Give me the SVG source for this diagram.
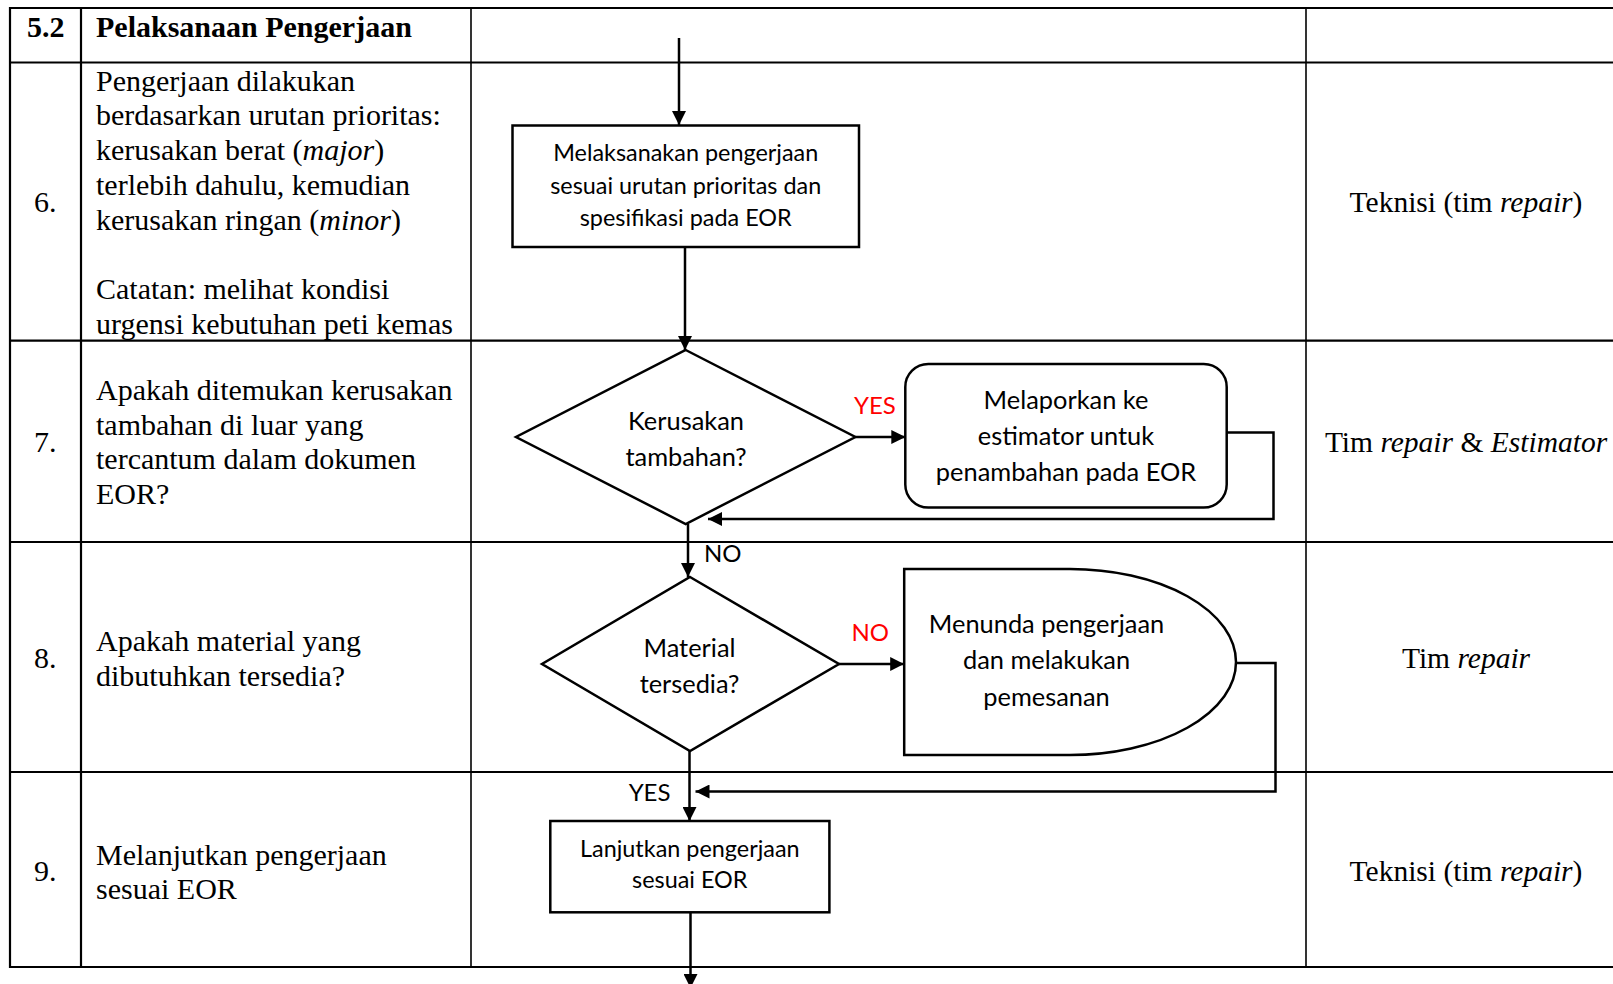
<svg xmlns="http://www.w3.org/2000/svg" width="1613" height="984" viewBox="0 0 1613 984">
<style>
.tb{stroke:#000;stroke-width:2.2;fill:none}
.tc{stroke:#000;stroke-width:1.6;fill:none}
.sr{font-family:"Liberation Serif","Times New Roman",serif;font-size:30px;fill:#000}
.srr{font-family:"Liberation Serif","Times New Roman",serif;font-size:29.5px;fill:#000;text-anchor:middle}
.b{font-weight:bold}
.i{font-style:italic}
.sh{stroke:#000;stroke-width:2.5;fill:#fff}
.fl{stroke:#000;stroke-width:2.5;fill:none}
.t1{font-family:Lato,"Liberation Sans",sans-serif;font-size:23.4px;fill:#000;text-anchor:middle}
.t2{font-family:Lato,"Liberation Sans",sans-serif;font-size:25.4px;fill:#000;text-anchor:middle}
.lb{font-family:Lato,"Liberation Sans",sans-serif;font-size:24px;fill:#000}
.red{fill:#FF0000}
</style>
<defs>
<marker id="ah" markerUnits="userSpaceOnUse" markerWidth="14" markerHeight="14" refX="14" refY="7" orient="auto">
<path d="M0,0 L14,7 L0,14 Z" fill="#000"/>
</marker>
</defs>
<rect width="1613" height="984" fill="#fff"/>
<g id="table">
<line class="tb" x1="9" y1="8" x2="1613" y2="8"/>
<line class="tb" x1="9" y1="62.5" x2="1613" y2="62.5"/>
<line class="tb" x1="9" y1="340.7" x2="1613" y2="340.7"/>
<line class="tb" x1="9" y1="542" x2="1613" y2="542"/>
<line class="tb" x1="9" y1="772" x2="1613" y2="772"/>
<line class="tb" x1="9" y1="967" x2="1613" y2="967"/>
<line class="tb" x1="10" y1="7" x2="10" y2="968"/>
<line class="tb" x1="81" y1="7" x2="81" y2="968"/>
<line class="tc" x1="471" y1="7" x2="471" y2="968"/>
<line class="tc" x1="1306" y1="7" x2="1306" y2="968"/>
</g>
<g id="col-text">
<text class="sr b" x="27" y="37">5.2</text>
<text class="sr b" x="96" y="37">Pelaksanaan Pengerjaan</text>
<text class="sr" x="34" y="212">6.</text>
<text class="sr" x="96" y="90.5">Pengerjaan dilakukan</text>
<text class="sr" x="96" y="125.3">berdasarkan urutan prioritas:</text>
<text class="sr" x="96" y="160.1">kerusakan berat (<tspan class="i">major</tspan>)</text>
<text class="sr" x="96" y="194.9">terlebih dahulu, kemudian</text>
<text class="sr" x="96" y="229.7">kerusakan ringan (<tspan class="i">minor</tspan>)</text>
<text class="sr" x="96" y="299.3">Catatan: melihat kondisi</text>
<text class="sr" x="96" y="334">urgensi kebutuhan peti kemas</text>
<text class="sr" x="34" y="452">7.</text>
<text class="sr" x="96" y="400">Apakah ditemukan kerusakan</text>
<text class="sr" x="96" y="434.5">tambahan di luar yang</text>
<text class="sr" x="96" y="469">tercantum dalam dokumen</text>
<text class="sr" x="96" y="503.5">EOR?</text>
<text class="sr" x="34" y="668">8.</text>
<text class="sr" x="96" y="651">Apakah material yang</text>
<text class="sr" x="96" y="685.5">dibutuhkan tersedia?</text>
<text class="sr" x="34" y="881">9.</text>
<text class="sr" x="96" y="864.5">Melanjutkan pengerjaan</text>
<text class="sr" x="96" y="899">sesuai EOR</text>
<text class="srr" x="1466" y="212">Teknisi (tim <tspan class="i">repair</tspan>)</text>
<text class="srr" x="1466" y="452">Tim <tspan class="i">repair</tspan> &amp; <tspan class="i">Estimator</tspan></text>
<text class="srr" x="1466" y="668">Tim <tspan class="i">repair</tspan></text>
<text class="srr" x="1466" y="881">Teknisi (tim <tspan class="i">repair</tspan>)</text>
</g>
<g id="connectors">
<path class="fl" d="M679,38 V125" marker-end="url(#ah)"/>
<path class="fl" d="M685,247 V350" marker-end="url(#ah)"/>
<path class="fl" d="M855.4,437 H905.3" marker-end="url(#ah)"/>
<path class="fl" d="M1226.7,432.5 H1273.5 V519 H708" marker-end="url(#ah)"/>
<path class="fl" d="M688,524 V577" marker-end="url(#ah)"/>
<path class="fl" d="M839,664 H904.2" marker-end="url(#ah)"/>
<path class="fl" d="M1236,663 H1275.5 V791.5 H695.5" marker-end="url(#ah)"/>
<path class="fl" d="M689.5,751 V821" marker-end="url(#ah)"/>
<path class="fl" d="M690.5,912 V988" marker-end="url(#ah)"/>
<text class="lb red" x="854" y="414">YES</text>
<text class="lb" x="704" y="561.5">NO</text>
<text class="lb red" x="851.5" y="640.5">NO</text>
<text class="lb" x="670.5" y="800.5" text-anchor="end">YES</text>
</g>
<g id="box1">
<rect class="sh" x="512.5" y="125.5" width="346.5" height="121.5"/>
<text class="t1" x="685.7" y="161">Melaksanakan pengerjaan</text>
<text class="t1" x="685.7" y="193.5">sesuai urutan prioritas dan</text>
<text class="t1" x="685.7" y="226">spesifikasi pada EOR</text>
</g>
<g id="decision1">
<polygon class="sh" points="685.7,350 855.4,437 685.7,524 516,437"/>
<text class="t2" x="686" y="430">Kerusakan</text>
<text class="t2" x="686" y="466">tambahan?</text>
</g>
<g id="box2">
<rect class="sh" x="905.3" y="364" width="321.4" height="143.5" rx="23" ry="23"/>
<text class="t2" x="1066" y="409">Melaporkan ke</text>
<text class="t2" x="1066" y="444.5">estimator untuk</text>
<text class="t2" x="1066" y="480.5">penambahan pada EOR</text>
</g>
<g id="decision2">
<polygon class="sh" points="690,577 839,664 690,751 542,664"/>
<text class="t2" x="689.5" y="657">Material</text>
<text class="t2" x="689.5" y="693">tersedia?</text>
</g>
<g id="delay">
<path class="sh" d="M904.2,569 H1070 A166,93 0 0 1 1070,755 H904.2 Z"/>
<text class="t2" x="1046.5" y="632.5">Menunda pengerjaan</text>
<text class="t2" x="1046.5" y="669">dan melakukan</text>
<text class="t2" x="1046.5" y="706">pemesanan</text>
</g>
<g id="box4">
<rect class="sh" x="550.3" y="821" width="279.1" height="91.3"/>
<text class="t1" x="689.8" y="856.7">Lanjutkan pengerjaan</text>
<text class="t1" x="689.8" y="888">sesuai EOR</text>
</g>
</svg>
